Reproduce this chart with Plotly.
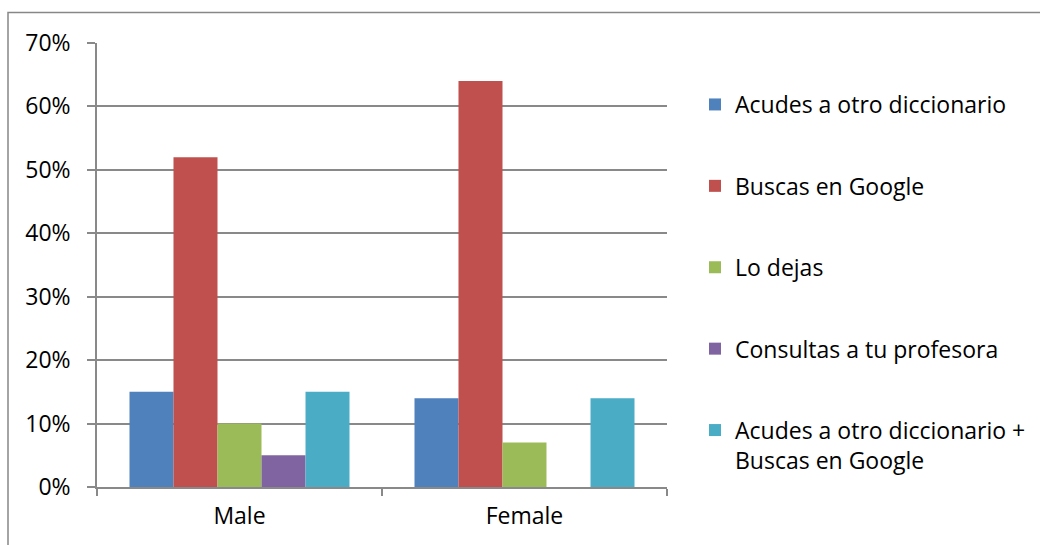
import plotly.graph_objects as go

# Survey answers by gender (share of respondents)
groups = ["Male", "Female"]
series_names = [
    "Acudes a otro diccionario",
    "Buscas en Google",
    "Lo dejas",
    "Consultas a tu profesora",
    "Acudes a otro diccionario +<br>Buscas en Google",
]
acudes = [0.15, 0.14]
google = [0.52, 0.64]
dejas = [0.10, 0.07]
profesora = [0.05, 0.00]
acudes_google = [0.15, 0.14]
y_ticks = [0, 0.1, 0.2, 0.3, 0.4, 0.5, 0.6, 0.7]

series_values = [acudes, google, dejas, profesora, acudes_google]
colors = ["#4F81BD", "#C0504D", "#9BBB59", "#8064A2", "#4BACC6"]

FONT = "Open Sans"
FS = 23
GRID = "#898989"

fig = go.Figure()
for i, (name, vals, col) in enumerate(zip(series_names, series_values, colors)):
    fig.add_trace(go.Bar(
        x=groups, y=vals, name=name, marker_color=col,
        marker_line_width=0, legendgroup=f"g{i}",
    ))

W, H = 1040, 545
L, R, T, B = 97, 373, 43, 58
pw, ph = W - L - R, H - T - B

def px_x(x):
    return (x - L) / pw

def px_y(y):
    return (H - B - y) / ph

fig.update_layout(
    width=W, height=H,
    margin=dict(l=L, r=R, t=T, b=B, autoexpand=False),
    paper_bgcolor="white", plot_bgcolor="white",
    font=dict(family=FONT, size=FS, color="#000000"),
    barmode="group", bargap=0.228, bargroupgap=0,
    showlegend=True,
    legend=dict(
        x=px_x(695), y=px_y(83), xanchor="left", yanchor="top",
        traceorder="grouped", valign="top",
        tracegroupgap=48.5, font=dict(family=FONT, size=FS, color="#000000"),
        bgcolor="rgba(0,0,0,0)",
    ),
    xaxis=dict(
        type="category", showgrid=False, showline=True, linecolor=GRID,
        linewidth=1.5, ticks="outside", tickson="boundaries", ticklen=7,
        tickcolor=GRID, tickwidth=1.5, ticklabelstandoff=8,
        tickfont=dict(family=FONT, size=FS),
    ),
    yaxis=dict(
        range=[0, 0.7], tickvals=y_ticks, tickformat=".0%",
        showgrid=True, gridcolor=GRID, gridwidth=1.5,
        showline=True, linecolor=GRID, linewidth=1.5,
        ticks="outside", ticklen=8, tickcolor=GRID, tickwidth=1.5,
        ticklabelstandoff=12, zeroline=False,
        tickfont=dict(family=FONT, size=FS),
    ),
    shapes=[dict(
        type="rect", xref="paper", yref="paper",
        x0=px_x(8), x1=px_x(1060), y0=px_y(560), y1=px_y(12.5),
        line=dict(color="#878787", width=1.5), fillcolor="rgba(0,0,0,0)",
        layer="below",
    )],
)

fig.write_html("out.html")
